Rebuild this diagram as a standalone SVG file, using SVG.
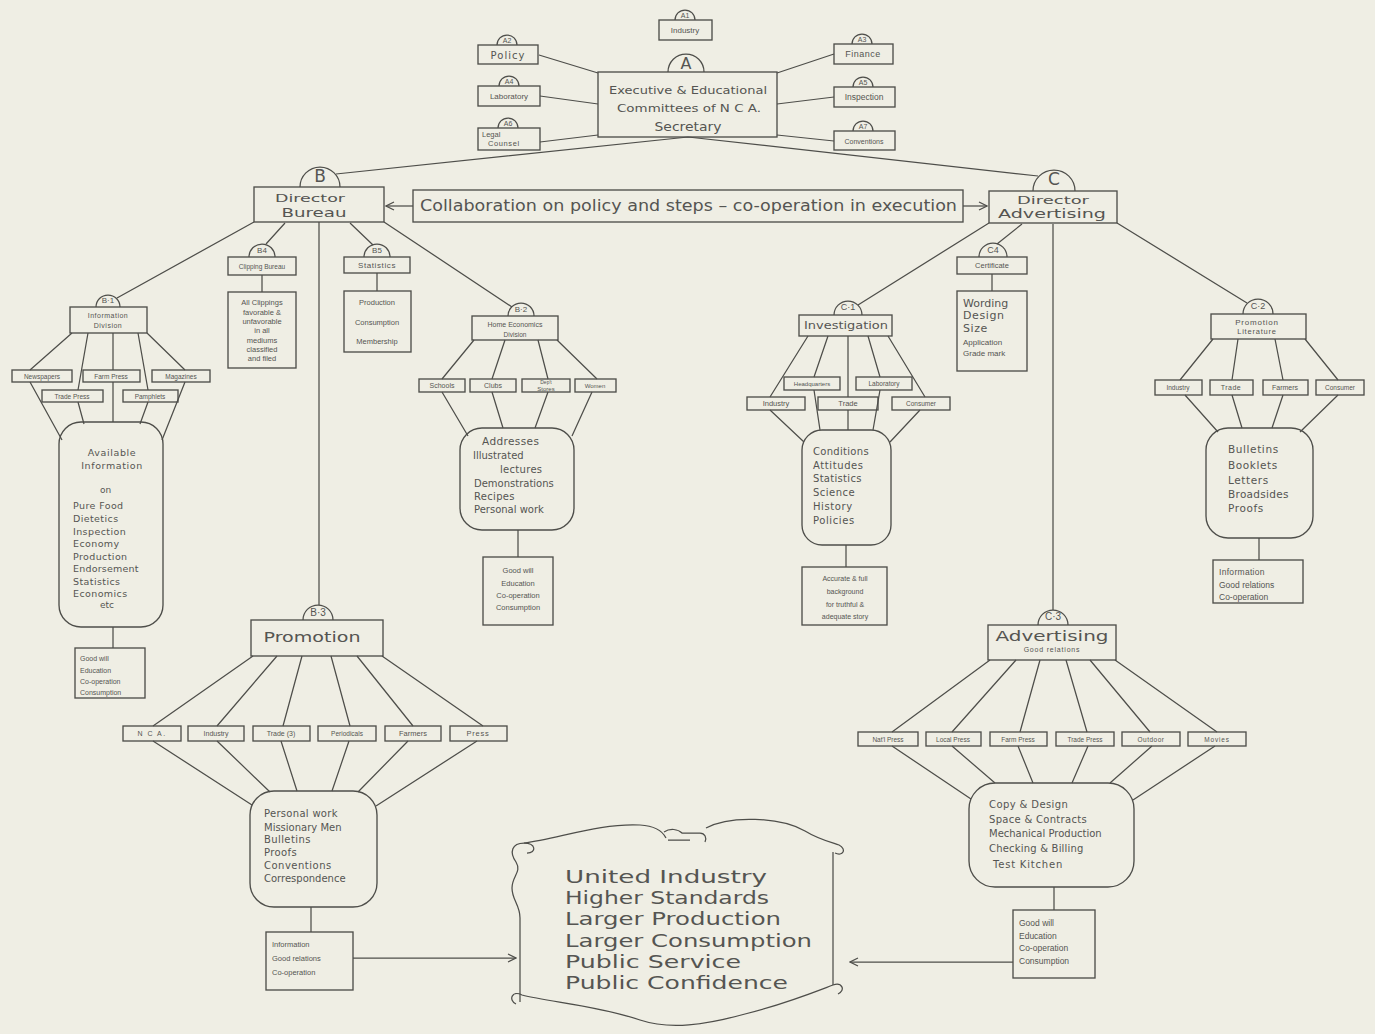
<svg xmlns="http://www.w3.org/2000/svg" width="1375" height="1034" viewBox="0 0 1375 1034">
<defs>
<style>
.bg{fill:#efeee4}
.ln{stroke:#4e4e4a;stroke-width:1.25;fill:none}
.bx{fill:none;stroke:#4e4e4a;stroke-width:1.35}
.tb{fill:none;stroke:#4e4e4a;stroke-width:1.25}
.t{font-family:"DejaVu Sans","Liberation Sans",sans-serif;fill:#555552;dominant-baseline:central}
.s{font-family:"Liberation Sans","DejaVu Sans",sans-serif;fill:#555552;dominant-baseline:central}
.m{text-anchor:middle}
</style>
<marker id="ah" markerWidth="10" markerHeight="10" refX="9" refY="5" orient="auto" markerUnits="userSpaceOnUse">
<path d="M1,1 L9,5 L1,9" fill="none" stroke="#4e4e4a" stroke-width="1.25"/>
</marker>
</defs>
<rect class="bg" x="0" y="0" width="1375" height="1034"/>

<g id="connectors">
<path class="ln" d="M539,55 L598,73 M540,96 L598,104 M540,142 L598,135 M834,54 L777,73 M834,97 L777,104 M834,141 L777,135"/>
<path class="ln" d="M688,137 L336,174 M688,137 L1038,176"/>
<path class="ln" d="M413,206 L386,206" marker-end="url(#ah)"/>
<path class="ln" d="M963,206 L987,206" marker-end="url(#ah)"/>
<path class="ln" d="M254,222 L117,298 M384,222 L512,307 M285,223 L266,244 M350,223 L373,245 M319,222 L319,605"/>
<path class="ln" d="M262,275 L262,292 M377,273 L377,291"/>
<path class="ln" d="M989,223 L858,305 M1117,223 L1247,303 M1022,224 L997,244 M1053,224 L1053,610 M992,274 L992,291"/>
<path class="ln" d="M72,333 L30,370 M30,382 L62,440 M88,333 L78,390 M78,402 L84,424 M113,333 L113,370 M113,382 L113,422 M138,333 L148,390 M148,402 L140,424 M147,333 L185,370 M185,382 L162,440 M113,627 L113,648"/>
<path class="ln" d="M474,340 L442,379 M442,392 L468,436 M505,340 L492,379 M492,392 L503,428 M538,340 L548,379 M548,392 L535,428 M557,340 L597,379 M592,392 L572,436 M518,530 L518,557"/>
<path class="ln" d="M808,336 L770,397 M770,410 L804,442 M828,336 L814,377 M814,390 L820,430 M848,336 L848,397 M848,410 L848,430 M868,336 L880,377 M880,390 L873,430 M888,336 L925,397 M920,410 L890,442 M846,545 L846,567"/>
<path class="ln" d="M1213,339 L1180,380 M1185,395 L1218,432 M1238,339 L1232,380 M1232,395 L1242,428 M1275,339 L1283,380 M1283,395 L1272,428 M1305,339 L1338,380 M1338,395 L1300,432 M1259,538 L1259,560"/>
<path class="ln" d="M253,656 L153,726 M277,656 L217,726 M302,656 L283,726 M331,656 L350,726 M357,656 L413,726 M382,656 L483,726"/>
<path class="ln" d="M153,741 L252,805 M217,741 L270,792 M281,741 L297,791 M349,741 L332,791 M408,741 L358,792 M477,741 L376,806 M311,907 L311,932"/>
<path class="ln" d="M990,660 L892,732 M1016,660 L952,732 M1040,660 L1020,732 M1066,660 L1087,732 M1090,660 L1150,732 M1115,660 L1217,732"/>
<path class="ln" d="M892,746 L971,799 M952,746 L995,783 M1018,746 L1033,783 M1088,746 L1072,783 M1152,746 L1110,783 M1215,746 L1133,800 M1054,887 L1054,910"/>
<path class="ln" d="M353,958 L516,958" marker-end="url(#ah)"/>
<path class="ln" d="M1013,962 L850,962" marker-end="url(#ah)"/>
</g>

<g id="nodeA">
<rect class="bx" x="598" y="72" width="179" height="65"/>
<path class="tb" d="M668,72 A18,18 0 0 1 704,72"/>
<text class="t m" x="686" y="63" font-size="16">A</text>
<text class="t m" x="688" y="90" font-size="11" textLength="158" lengthAdjust="spacingAndGlyphs">Executive &amp; Educational</text>
<text class="t m" x="689" y="108" font-size="11" textLength="144" lengthAdjust="spacingAndGlyphs">Committees of N C A.</text>
<text class="t m" x="688" y="126" font-size="13" textLength="67" lengthAdjust="spacingAndGlyphs">Secretary</text>
</g>
<g id="nodeA1">
<rect class="bx" x="659" y="20" width="53" height="20"/>
<path class="tb" d="M675,20 A10,10 0 0 1 695,20"/>
<text class="s m" x="685" y="15" font-size="7">A1</text>
<text class="s m" x="685" y="30" font-size="8">Industry</text>
</g>
<g id="nodeA2">
<rect class="bx" x="478" y="45" width="60" height="19"/>
<path class="tb" d="M497,45 A10,10 0 0 1 517,45"/>
<text class="s m" x="507" y="40" font-size="7">A2</text>
<text class="t m" x="508" y="55" font-size="10" letter-spacing="1">Policy</text>
</g>
<g id="nodeA4">
<rect class="bx" x="478" y="86" width="62" height="20"/>
<path class="tb" d="M499,86 A10,10 0 0 1 519,86"/>
<text class="s m" x="509" y="81" font-size="7">A4</text>
<text class="s m" x="509" y="96" font-size="8">Laboratory</text>
</g>
<g id="nodeA6">
<rect class="bx" x="478" y="128" width="62" height="22"/>
<path class="tb" d="M498,128 A10,10 0 0 1 518,128"/>
<text class="s m" x="508" y="123" font-size="7">A6</text>
<text class="s" x="482" y="134" font-size="7.5">Legal</text>
<text class="s" x="488" y="143" font-size="7.5" letter-spacing="0.6">Counsel</text>
</g>
<g id="nodeA3">
<rect class="bx" x="834" y="44" width="59" height="20"/>
<path class="tb" d="M852,44 A10,10 0 0 1 872,44"/>
<text class="s m" x="862" y="39" font-size="7">A3</text>
<text class="s m" x="863" y="54" font-size="9" letter-spacing="0.5">Finance</text>
</g>
<g id="nodeA5">
<rect class="bx" x="834" y="87" width="61" height="20"/>
<path class="tb" d="M853,87 A10,10 0 0 1 873,87"/>
<text class="s m" x="863" y="82" font-size="7">A5</text>
<text class="s m" x="864" y="97" font-size="8.5">Inspection</text>
</g>
<g id="nodeA7">
<rect class="bx" x="834" y="131" width="61" height="19"/>
<path class="tb" d="M853,131 A10,10 0 0 1 873,131"/>
<text class="s m" x="863" y="126" font-size="7">A7</text>
<text class="s m" x="864" y="141" font-size="7">Conventions</text>
</g>

<g id="collab">
<rect class="bx" x="413" y="190" width="550" height="32"/>
<text class="t" x="420" y="206" font-size="15" textLength="537" lengthAdjust="spacingAndGlyphs">Collaboration on policy and steps – co-operation in execution</text>
</g>

<g id="nodeB">
<rect class="bx" x="254" y="187" width="130" height="35"/>
<path class="tb" d="M300,187 A20,20 0 0 1 340,187"/>
<text class="t m" x="320" y="176" font-size="17">B</text>
<text class="t m" x="310" y="198" font-size="11" textLength="70" lengthAdjust="spacingAndGlyphs">Director</text>
<text class="t m" x="314" y="212" font-size="13" textLength="65" lengthAdjust="spacingAndGlyphs">Bureau</text>
</g>
<g id="nodeC">
<rect class="bx" x="989" y="191" width="128" height="32"/>
<path class="tb" d="M1033,191 A21,21 0 0 1 1075,191"/>
<text class="t m" x="1054" y="179" font-size="17">C</text>
<text class="t m" x="1053" y="200" font-size="10.5" textLength="72" lengthAdjust="spacingAndGlyphs">Director</text>
<text class="t m" x="1052" y="214" font-size="12" textLength="108" lengthAdjust="spacingAndGlyphs">Advertising</text>
</g>

<g id="nodeB4">
<rect class="bx" x="228" y="257" width="68" height="18"/>
<path class="tb" d="M249,257 A13,13 0 0 1 275,257"/>
<text class="s m" x="262" y="250" font-size="8">B4</text>
<text class="s m" x="262" y="266" font-size="6.5">Clipping Bureau</text>
<rect class="bx" x="228" y="292" width="68" height="76"/>
<text class="s m" x="262" y="302" font-size="7.5">All Clippings</text>
<text class="s m" x="262" y="312" font-size="7.5">favorable &amp;</text>
<text class="s m" x="262" y="321" font-size="7.5">unfavorable</text>
<text class="s m" x="262" y="330" font-size="7.5">in all</text>
<text class="s m" x="262" y="340" font-size="7.5">mediums</text>
<text class="s m" x="262" y="349" font-size="7.5">classified</text>
<text class="s m" x="262" y="358" font-size="7.5">and filed</text>
</g>
<g id="nodeB5">
<rect class="bx" x="344" y="257" width="66" height="16"/>
<path class="tb" d="M364,257 A13,13 0 0 1 390,257"/>
<text class="s m" x="377" y="250" font-size="8">B5</text>
<text class="s m" x="377" y="265" font-size="8" letter-spacing="0.6">Statistics</text>
<rect class="bx" x="344" y="291" width="67" height="61"/>
<text class="s m" x="377" y="302" font-size="7.5">Production</text>
<text class="s m" x="377" y="322" font-size="7.5">Consumption</text>
<text class="s m" x="377" y="341" font-size="7.5">Membership</text>
</g>

<g id="nodeB1">
<rect class="bx" x="70" y="307" width="77" height="26"/>
<path class="tb" d="M96,307 A12,12 0 0 1 120,307"/>
<text class="s m" x="108" y="300" font-size="8">B·1</text>
<text class="s m" x="108" y="315" font-size="7" letter-spacing="0.5">Information</text>
<text class="s m" x="108" y="325" font-size="7" letter-spacing="0.5">Division</text>
<rect class="bx" x="12" y="370" width="60" height="12"/>
<text class="s m" x="42" y="376" font-size="6.5">Newspapers</text>
<rect class="bx" x="83" y="370" width="57" height="12"/>
<text class="s m" x="111" y="376" font-size="6.5">Farm Press</text>
<rect class="bx" x="152" y="370" width="58" height="12"/>
<text class="s m" x="181" y="376" font-size="6.5">Magazines</text>
<rect class="bx" x="42" y="390" width="61" height="12"/>
<text class="s m" x="72" y="396" font-size="6.5">Trade Press</text>
<rect class="bx" x="123" y="390" width="55" height="12"/>
<text class="s m" x="150" y="396" font-size="6.5">Pamphlets</text>
<rect class="bx" x="59" y="422" width="104" height="205" rx="22"/>
<text class="t m" x="112" y="452" font-size="9.5" letter-spacing="0.6">Available</text>
<text class="t m" x="112" y="465" font-size="9.5" letter-spacing="0.6">Information</text>
<text class="t" x="100" y="490" font-size="9">on</text>
<text class="t" x="73" y="505" font-size="9.5" letter-spacing="0.4">Pure Food</text>
<text class="t" x="73" y="518" font-size="9.5" letter-spacing="0.4">Dietetics</text>
<text class="t" x="73" y="531" font-size="9.5" letter-spacing="0.4">Inspection</text>
<text class="t" x="73" y="543" font-size="9.5" letter-spacing="0.4">Economy</text>
<text class="t" x="73" y="556" font-size="9.5" letter-spacing="0.4">Production</text>
<text class="t" x="73" y="568" font-size="9.5" letter-spacing="0.2">Endorsement</text>
<text class="t" x="73" y="581" font-size="9.5" letter-spacing="0.4">Statistics</text>
<text class="t" x="73" y="593" font-size="9.5" letter-spacing="0.4">Economics</text>
<text class="t" x="100" y="605" font-size="9">etc</text>
<rect class="bx" x="75" y="648" width="70" height="50"/>
<text class="s" x="80" y="658" font-size="7">Good will</text>
<text class="s" x="80" y="670" font-size="7">Education</text>
<text class="s" x="80" y="681" font-size="7">Co-operation</text>
<text class="s" x="80" y="692" font-size="7">Consumption</text>
</g>

<g id="nodeB2">
<rect class="bx" x="472" y="316" width="86" height="24"/>
<path class="tb" d="M508,316 A13,13 0 0 1 534,316"/>
<text class="s m" x="521" y="309" font-size="8">B·2</text>
<text class="s m" x="515" y="324" font-size="7">Home Economics</text>
<text class="s m" x="515" y="334" font-size="6.5">Division</text>
<rect class="bx" x="419" y="379" width="46" height="13"/>
<text class="s m" x="442" y="385.5" font-size="7">Schools</text>
<rect class="bx" x="470" y="379" width="46" height="13"/>
<text class="s m" x="493" y="385.5" font-size="7">Clubs</text>
<rect class="bx" x="522" y="379" width="48" height="13"/>
<text class="s m" x="546" y="382" font-size="5">Dep't</text>
<text class="s m" x="546" y="388.5" font-size="6">Stores</text>
<rect class="bx" x="575" y="379" width="41" height="13"/>
<text class="s m" x="595" y="385.5" font-size="6">Women</text>
<rect class="bx" x="460" y="428" width="114" height="102" rx="22"/>
<text class="t" x="482" y="441" font-size="10.5" letter-spacing="0.4">Addresses</text>
<text class="t" x="473" y="455" font-size="10">Illustrated</text>
<text class="t" x="500" y="469" font-size="10" letter-spacing="0.3">lectures</text>
<text class="t" x="474" y="483" font-size="10">Demonstrations</text>
<text class="t" x="474" y="496" font-size="10" letter-spacing="0.3">Recipes</text>
<text class="t" x="474" y="509" font-size="10">Personal work</text>
<rect class="bx" x="483" y="557" width="70" height="68"/>
<text class="s m" x="518" y="570" font-size="7.5">Good will</text>
<text class="s m" x="518" y="583" font-size="7.5">Education</text>
<text class="s m" x="518" y="595" font-size="7.5">Co-operation</text>
<text class="s m" x="518" y="607" font-size="7.5">Consumption</text>
</g>

<g id="nodeB3">
<rect class="bx" x="251" y="620" width="132" height="36"/>
<path class="tb" d="M303,620 A15,15 0 0 1 333,620"/>
<text class="s m" x="318" y="612" font-size="10">B·3</text>
<text class="t m" x="312" y="637" font-size="14" textLength="97" lengthAdjust="spacingAndGlyphs">Promotion</text>
<rect class="bx" x="123" y="726" width="58" height="15"/>
<text class="s m" x="152" y="733.5" font-size="7" letter-spacing="1.5">N C A.</text>
<rect class="bx" x="188" y="726" width="56" height="15"/>
<text class="s m" x="216" y="733.5" font-size="7">Industry</text>
<rect class="bx" x="253" y="726" width="57" height="15"/>
<text class="s m" x="281" y="733.5" font-size="7">Trade (3)</text>
<rect class="bx" x="318" y="726" width="58" height="15"/>
<text class="s m" x="347" y="733.5" font-size="6.5">Periodicals</text>
<rect class="bx" x="385" y="726" width="56" height="15"/>
<text class="s m" x="413" y="733.5" font-size="7.5">Farmers</text>
<rect class="bx" x="450" y="726" width="57" height="15"/>
<text class="s m" x="478" y="733.5" font-size="7.5" letter-spacing="0.8">Press</text>
<rect class="bx" x="250" y="791" width="127" height="116" rx="24"/>
<text class="t" x="264" y="813" font-size="10" letter-spacing="0.3">Personal work</text>
<text class="t" x="264" y="827" font-size="10">Missionary Men</text>
<text class="t" x="264" y="839" font-size="10" letter-spacing="0.4">Bulletins</text>
<text class="t" x="264" y="852" font-size="10" letter-spacing="0.4">Proofs</text>
<text class="t" x="264" y="865" font-size="10" letter-spacing="0.5">Conventions</text>
<text class="t" x="264" y="878" font-size="10">Correspondence</text>
<rect class="bx" x="266" y="932" width="87" height="58"/>
<text class="s" x="272" y="944" font-size="7.5">Information</text>
<text class="s" x="272" y="958" font-size="7.5">Good relations</text>
<text class="s" x="272" y="972" font-size="7.5">Co-operation</text>
</g>

<g id="nodeC1">
<rect class="bx" x="799" y="315" width="93" height="21"/>
<path class="tb" d="M834,315 A14,14 0 0 1 862,315"/>
<text class="s m" x="848" y="307" font-size="9">C·1</text>
<text class="t m" x="846" y="325.5" font-size="10" textLength="84" lengthAdjust="spacingAndGlyphs">Investigation</text>
<rect class="bx" x="784" y="377" width="56" height="13"/>
<text class="s m" x="812" y="383.5" font-size="6">Headquarters</text>
<rect class="bx" x="856" y="377" width="56" height="13"/>
<text class="s m" x="884" y="383.5" font-size="6.5">Laboratory</text>
<rect class="bx" x="747" y="397" width="58" height="13"/>
<text class="s m" x="776" y="403.5" font-size="7.5">Industry</text>
<rect class="bx" x="818" y="397" width="60" height="13"/>
<text class="s m" x="848" y="403.5" font-size="7.5">Trade</text>
<rect class="bx" x="892" y="397" width="58" height="13"/>
<text class="s m" x="921" y="403.5" font-size="6.5">Consumer</text>
<rect class="bx" x="802" y="430" width="89" height="115" rx="20"/>
<text class="t" x="813" y="451" font-size="10" letter-spacing="0.3">Conditions</text>
<text class="t" x="813" y="465" font-size="10" letter-spacing="0.6">Attitudes</text>
<text class="t" x="813" y="478" font-size="10" letter-spacing="0.3">Statistics</text>
<text class="t" x="813" y="492" font-size="10" letter-spacing="0.5">Science</text>
<text class="t" x="813" y="506" font-size="10" letter-spacing="0.6">History</text>
<text class="t" x="813" y="520" font-size="10" letter-spacing="0.6">Policies</text>
<rect class="bx" x="802" y="567" width="85" height="58"/>
<text class="s m" x="845" y="578" font-size="7">Accurate &amp; full</text>
<text class="s m" x="845" y="591" font-size="7">background</text>
<text class="s m" x="845" y="604" font-size="7">for truthful &amp;</text>
<text class="s m" x="845" y="616" font-size="7">adequate story</text>
</g>

<g id="nodeC4">
<rect class="bx" x="957" y="257" width="70" height="17"/>
<path class="tb" d="M979,257 A14,14 0 0 1 1007,257"/>
<text class="s m" x="993" y="250" font-size="9">C4</text>
<text class="s m" x="992" y="265.5" font-size="7.5">Certificate</text>
<rect class="bx" x="957" y="291" width="70" height="80"/>
<text class="t" x="963" y="303" font-size="11">Wording</text>
<text class="t" x="963" y="315" font-size="11" letter-spacing="0.6">Design</text>
<text class="t" x="963" y="328" font-size="11" letter-spacing="0.6">Size</text>
<text class="s" x="963" y="342" font-size="8">Application</text>
<text class="s" x="963" y="353" font-size="8">Grade mark</text>
</g>

<g id="nodeC2">
<rect class="bx" x="1211" y="314" width="95" height="25"/>
<path class="tb" d="M1243,314 A15,15 0 0 1 1273,314"/>
<text class="s m" x="1258" y="306" font-size="9">C·2</text>
<text class="s m" x="1257" y="322" font-size="8" letter-spacing="0.8">Promotion</text>
<text class="s m" x="1257" y="331" font-size="7.5" letter-spacing="0.8">Literature</text>
<rect class="bx" x="1155" y="380" width="47" height="15"/>
<text class="s m" x="1178" y="387.5" font-size="6.5">Industry</text>
<rect class="bx" x="1210" y="380" width="43" height="15"/>
<text class="s m" x="1231" y="387.5" font-size="7" letter-spacing="0.5">Trade</text>
<rect class="bx" x="1263" y="380" width="45" height="15"/>
<text class="s m" x="1285" y="387.5" font-size="7">Farmers</text>
<rect class="bx" x="1316" y="380" width="48" height="15"/>
<text class="s m" x="1340" y="387.5" font-size="6.5">Consumer</text>
<rect class="bx" x="1206" y="428" width="107" height="110" rx="22"/>
<text class="t" x="1228" y="449" font-size="10.5" letter-spacing="0.6">Bulletins</text>
<text class="t" x="1228" y="465" font-size="10.5" letter-spacing="0.6">Booklets</text>
<text class="t" x="1228" y="480" font-size="10.5" letter-spacing="0.6">Letters</text>
<text class="t" x="1228" y="494" font-size="10.5" letter-spacing="0.3">Broadsides</text>
<text class="t" x="1228" y="508" font-size="10.5" letter-spacing="0.6">Proofs</text>
<rect class="bx" x="1213" y="560" width="90" height="43"/>
<text class="s" x="1219" y="572" font-size="8.5" letter-spacing="0.3">Information</text>
<text class="s" x="1219" y="585" font-size="8.5">Good relations</text>
<text class="s" x="1219" y="597" font-size="8.5">Co-operation</text>
</g>

<g id="nodeC3">
<rect class="bx" x="988" y="625" width="128" height="35"/>
<path class="tb" d="M1038,625 A15,15 0 0 1 1068,625"/>
<text class="s m" x="1053" y="616" font-size="10">C·3</text>
<text class="t m" x="1052" y="636" font-size="14" textLength="113" lengthAdjust="spacingAndGlyphs">Advertising</text>
<text class="s m" x="1052" y="649" font-size="7" letter-spacing="0.8">Good relations</text>
<rect class="bx" x="858" y="732" width="60" height="14"/>
<text class="s m" x="888" y="739" font-size="6.5">Nat'l Press</text>
<rect class="bx" x="926" y="732" width="55" height="14"/>
<text class="s m" x="953" y="739" font-size="6.5">Local Press</text>
<rect class="bx" x="990" y="732" width="57" height="14"/>
<text class="s m" x="1018" y="739" font-size="6.5">Farm Press</text>
<rect class="bx" x="1056" y="732" width="58" height="14"/>
<text class="s m" x="1085" y="739" font-size="6.5">Trade Press</text>
<rect class="bx" x="1122" y="732" width="58" height="14"/>
<text class="s m" x="1151" y="739" font-size="6.5" letter-spacing="0.5">Outdoor</text>
<rect class="bx" x="1188" y="732" width="58" height="14"/>
<text class="s m" x="1217" y="739" font-size="6.5" letter-spacing="0.8">Movies</text>
<rect class="bx" x="969" y="783" width="165" height="104" rx="26"/>
<text class="t" x="989" y="804" font-size="10" letter-spacing="0.4">Copy &amp; Design</text>
<text class="t" x="989" y="819" font-size="10" letter-spacing="0.3">Space &amp; Contracts</text>
<text class="t" x="989" y="833" font-size="10">Mechanical Production</text>
<text class="t" x="989" y="848" font-size="10" letter-spacing="0.2">Checking &amp; Billing</text>
<text class="t" x="993" y="864" font-size="10" letter-spacing="0.8">Test  Kitchen</text>
<rect class="bx" x="1013" y="910" width="82" height="68"/>
<text class="s" x="1019" y="923" font-size="8.5">Good will</text>
<text class="s" x="1019" y="936" font-size="8.5">Education</text>
<text class="s" x="1019" y="948" font-size="8.5">Co-operation</text>
<text class="s" x="1019" y="961" font-size="8.5">Consumption</text>
</g>

<g id="scroll">
<path class="ln" d="M520,1002 L520,918 C520,905 512,900 512,888 C512,876 522,872 516,862 C509,852 512,843 524,843 C536,843 537,853 527,853"/>
<path class="ln" d="M524,843 C560,838 600,823 640,825 C657,826 663,832 666,838"/>
<path class="ln" d="M664,832 C670,828 678,829 682,833 L700,833 C705,833 707,838 705,842 M668,840 L690,840"/>
<path class="ln" d="M706,828 C730,815 780,817 805,831 C818,839 830,842 839,845 C847,849 843,857 835,853"/>
<path class="ln" d="M833,852 L833,985"/>
<path class="ln" d="M516,1004 C508,1000 512,990 522,995 C550,1002 600,1006 640,1020 C670,1030 705,1025 745,1014 C785,1004 812,993 833,985 C842,982 846,990 838,994"/>
<text class="t" x="565" y="877" font-size="17" textLength="202" lengthAdjust="spacingAndGlyphs">United Industry</text>
<text class="t" x="565" y="898" font-size="17" textLength="204" lengthAdjust="spacingAndGlyphs">Higher Standards</text>
<text class="t" x="565" y="919" font-size="17" textLength="216" lengthAdjust="spacingAndGlyphs">Larger Production</text>
<text class="t" x="565" y="941" font-size="17" textLength="247" lengthAdjust="spacingAndGlyphs">Larger Consumption</text>
<text class="t" x="565" y="962" font-size="17" textLength="176" lengthAdjust="spacingAndGlyphs">Public Service</text>
<text class="t" x="565" y="983" font-size="17" textLength="223" lengthAdjust="spacingAndGlyphs">Public Confidence</text>
</g>
</svg>
